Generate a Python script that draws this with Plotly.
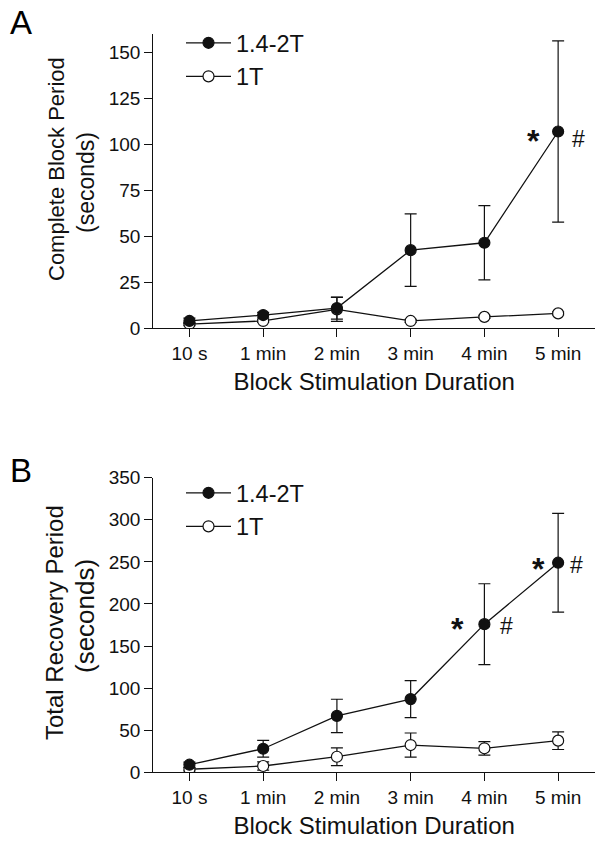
import plotly.graph_objects as go

# ---------------- data ----------------
categories = ["10 s", "1 min", "2 min", "3 min", "4 min", "5 min"]
series_names = ["1.4-2T", "1T"]

# Panel A: Complete Block Period (seconds)
a_high = [4.0, 7.2, 11.0, 42.5, 46.5, 107.0]
a_high_err = [1.5, 1.5, 6.0, 19.7, 20.2, 49.3]
a_low = [2.3, 4.0, 10.3, 4.0, 6.2, 8.1]
a_low_err = [0.8, 0.8, 6.5, 0.8, 0.8, 0.8]

# Panel B: Total Recovery Period (seconds)
b_high = [9.0, 28.0, 67.0, 87.0, 176.0, 249.0]
b_high_err = [3.0, 10.0, 19.8, 22.0, 48.0, 58.6]
b_low = [3.6, 7.5, 18.5, 32.4, 28.5, 37.6]
b_low_err = [2.0, 5.0, 10.6, 14.3, 8.0, 10.5]

a_yticks = [0, 25, 50, 75, 100, 125, 150]
b_yticks = [0, 50, 100, 150, 200, 250, 300, 350]

FONT = "Liberation Sans, Arial, sans-serif"
INK = "#111111"

fig = go.Figure()


def add_series(y, err, filled, name, xa, ya, legend, rank):
    fig.add_trace(go.Scatter(
        x=categories, y=y, name=name, mode="lines+markers",
        xaxis=xa, yaxis=ya, legend=legend, legendrank=rank,
        line=dict(color=INK, width=1.3),
        marker=dict(symbol="circle", size=11,
                    color=INK if filled else "white",
                    line=dict(color=INK, width=1.2)),
        error_y=dict(type="data", array=err, visible=True,
                     color=INK, thickness=1.2, width=6),
    ))


# draw open circles first so filled ones sit on top
add_series(a_low, a_low_err, False, series_names[1], "x", "y", "legend", 2)
add_series(a_high, a_high_err, True, series_names[0], "x", "y", "legend", 1)
add_series(b_low, b_low_err, False, series_names[1], "x2", "y2", "legend2", 2)
add_series(b_high, b_high_err, True, series_names[0], "x2", "y2", "legend2", 1)

xdom = [153.3 / 604, 595 / 604]
axis_common = dict(
    showline=True, linecolor=INK, linewidth=1.3,
    ticks="outside", ticklen=8, tickwidth=1.2, tickcolor=INK,
    showgrid=False, zeroline=False, automargin=False,
    tickfont=dict(family=FONT, size=19, color=INK),
)

xaxis_common = dict(axis_common, type="category", range=[-0.49, 5.5],
                    title=dict(text="Block Stimulation Duration",
                               font=dict(family=FONT, size=24, color=INK),
                               standoff=9))

legend_common = dict(xanchor="left", yanchor="top", bgcolor="rgba(0,0,0,0)",
                     itemwidth=45, tracegroupgap=0,
                     font=dict(family=FONT, size=23.5, color=INK))

fig.update_layout(
    width=604, height=842,
    margin=dict(l=0, r=0, t=0, b=0, autoexpand=False),
    paper_bgcolor="white", plot_bgcolor="white",
    font=dict(family=FONT, color=INK),
    xaxis=dict(xaxis_common, domain=xdom, anchor="y"),
    yaxis=dict(axis_common, domain=[1 - 328.3 / 842, 1 - 34 / 842], anchor="x",
               range=[0, 160], tickvals=a_yticks),
    xaxis2=dict(xaxis_common, domain=xdom, anchor="y2"),
    yaxis2=dict(axis_common, domain=[1 - 772.3 / 842, 1 - 477.7 / 842], anchor="x2",
                range=[0, 350], tickvals=b_yticks),
    legend=dict(legend_common, x=181 / 604, y=1 - 21 / 842),
    legend2=dict(legend_common, x=181 / 604, y=1 - 471 / 842),
)

# panel letters
for txt, px, py in [("A", 8, 2), ("B", 8, 450)]:
    fig.add_annotation(text=txt, x=px / 604, y=1 - py / 842, xref="paper", yref="paper",
                       xanchor="left", yanchor="top", showarrow=False,
                       font=dict(family=FONT, size=33, color="black"))

# y-axis titles (two lines, each placed separately as in the original)
ytitles = [
    ("Complete Block Period", 56, 169, 22),
    ("(seconds)", 86, 183, 23),
    ("Total Recovery Period", 54, 623, 24),
    ("(seconds)", 85, 616, 26),
]
for txt, px, py, sz in ytitles:
    fig.add_annotation(text=txt, x=px / 604, y=1 - py / 842, xref="paper", yref="paper",
                       xanchor="center", yanchor="middle", textangle=-90, showarrow=False,
                       font=dict(family=FONT, size=sz, color=INK))

# significance marks
marks = [
    ("*", "x", "y", 4.66, 102, 32, True),
    ("#", "x", "y", 5.28, 103, 23, False),
    ("*", "x2", "y2", 3.64, 170, 32, True),
    ("#", "x2", "y2", 4.30, 174, 23, False),
    ("*", "x2", "y2", 4.73, 242, 32, True),
    ("#", "x2", "y2", 5.25, 246, 23, False),
]
for txt, xr, yr, xv, yv, sz, bold in marks:
    fig.add_annotation(text=("<b>%s</b>" % txt) if bold else txt, x=xv, y=yv,
                       xref=xr, yref=yr, showarrow=False,
                       font=dict(family=FONT, size=sz, color=INK))

fig.write_html("out.html", config={"displayModeBar": False},
               post_script="document.body.style.margin='0';document.body.style.overflow='hidden';")
